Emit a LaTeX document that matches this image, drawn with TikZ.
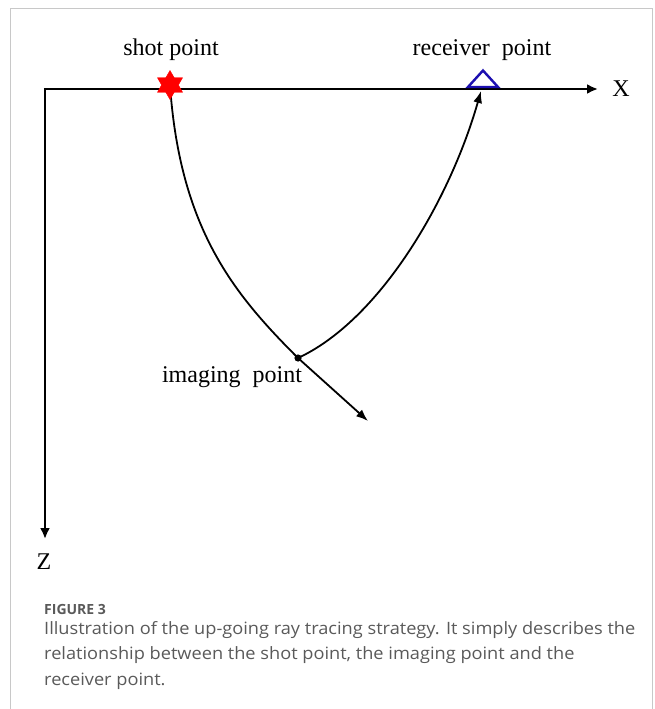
\documentclass[tikz,border=0pt]{standalone}
\usepackage{fontspec}
\setmainfont{Liberation Serif}
\newfontfamily\capfont[FakeStretch=1.07]{Open Sans}
\newfontfamily\capbold{Open Sans}
\usetikzlibrary{shapes.geometric,arrows.meta}
\definecolor{recvblue}{HTML}{1C0FB0}
\definecolor{capgray}{HTML}{5A5A5A}
\definecolor{framegray}{HTML}{C8C8C8}
\begin{document}
\begin{tikzpicture}[x=1pt,y=-1pt,
  axis/.style={line width=2.4pt,-{Latex[length=11pt,width=10pt]}},
  ray/.style={line width=1.8pt},
  rayarrow/.style={ray,-{Latex[length=12pt,width=9pt]}},
  lbl/.style={font=\fontsize{24}{28}\selectfont, inner sep=0pt},
  captxt/.style={anchor=base west, inner sep=0pt, text=capgray, font=\capfont\fontsize{17}{20}\selectfont},
  shotstar/.style={star, star points=6, star point ratio=1.73, fill=red, draw=red, minimum size=29pt, inner sep=0pt}
]
\useasboundingbox (0,0) rectangle (654,709);
\fill[white] (0,0) rectangle (654,709);
\draw[framegray, line width=1pt] (10,709) -- (10,9) -- (652,9) -- (652,709);

% axes
\coordinate (O) at (45,89);
\coordinate (Ol) at (43.8,89);
\coordinate (xend) at (598,89);
\coordinate (zend) at (45,539);
\draw[axis] (Ol) -- (xend);
\draw[axis] (O) -- (zend);
\node[lbl] (xl) at (621,89) {X};
\node[lbl] (zl) at (44,562) {Z};

% points
\coordinate (shotc) at (170,85);
\coordinate (recv) at (481,91);
\coordinate (img) at (298,358);
\coordinate (dir) at (368,421);

% rays
\draw[ray] (shotc) .. controls (180,230) and (235,295) .. (img);
\draw[rayarrow] (img) -- (dir);
\draw[rayarrow] (img) .. controls (380,320) and (450,200) .. (recv);
\fill (img) circle (3.6);

% shot star
\node[shotstar] (shot) at (shotc) {};
% receiver triangle
\draw[recvblue, line width=2.4pt, fill=white, line join=miter] (468,87) -- (483,70.5) -- (498,87) -- cycle;

% labels
\node[lbl] (shotl) at (171,50) {shot point};
\node[lbl] (recvl) at (482,50) {receiver\ \ point};
\node[lbl] (imgl) at (232,377) {imaging\ \ point};

% caption
\node[captxt, font=\capbold\bfseries\fontsize{14}{16}\selectfont] (fig) at (44,614) {FIGURE 3};
\node[captxt] (c1) at (44,634) {Illustration of the up-going ray tracing strategy. It simply describes the};
\node[captxt] (c2) at (44,659.5) {relationship between the shot point, the imaging point and the};
\node[captxt] (c3) at (44,685) {receiver point.};
\end{tikzpicture}
\end{document}
